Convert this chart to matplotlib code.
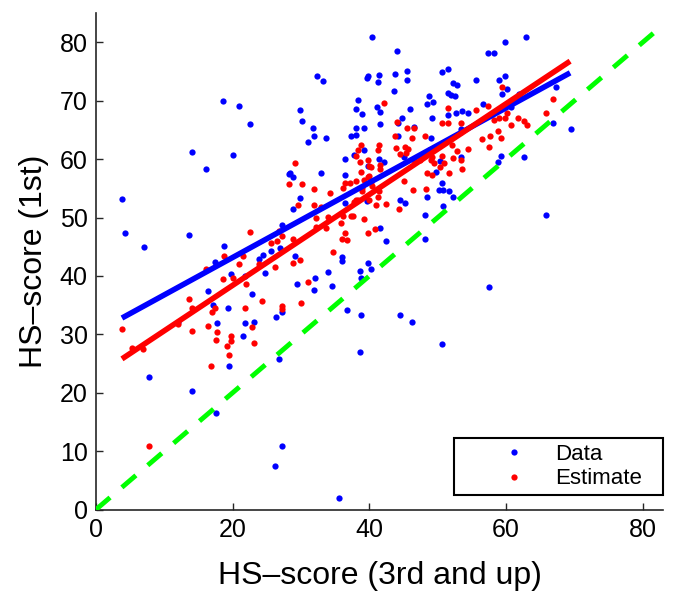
import matplotlib
matplotlib.use("Agg")
import matplotlib.pyplot as plt
import numpy as np

plt.rcParams['font.family'] = ['Liberation Sans', 'DejaVu Sans']

data_x = [18.6, 21.0, 22.5, 14.0, 20.0, 16.1, 28.2,
          40.4, 44.1, 32.3, 33.3, 39.8, 39.6, 41.4, 41.3, 43.7, 45.5, 45.5, 50.6, 51.6, 52.3, 52.8, 55.6,
          43.6, 51.6, 52.0, 52.5, 38.4, 29.9, 30.1, 38.1, 38.9, 41.2, 41.6, 45.9, 48.8, 49.4, 48.5, 49.2,
          51.5, 52.7, 53.6, 54.5, 44.8, 41.5, 31.8, 31.9, 33.7, 31.1, 38.0, 39.2, 37.3, 38.0, 44.2, 46.5,
          44.2, 49.1, 39.3, 37.7, 41.4, 42.2, 45.1, 36.4, 39.8, 28.4, 28.9, 32.9, 36.4, 49.8, 50.3, 53.5, 53.5,
          63.0, 59.9, 57.4, 58.2, 59.0, 59.9, 60.1, 59.5, 67.4, 56.6, 61.9, 60.7, 66.9, 69.5, 59.3, 62.6, 58.8,
          3.8, 4.3, 7.0, 13.6, 27.2, 18.7, 17.4, 19.8, 21.8, 23.9, 24.4, 25.6, 26.9, 24.7, 16.4, 17.1, 19.3,
          22.9, 17.7, 21.8, 23.2, 21.5, 26.4, 27.3, 12.0,
          7.7, 19.5, 26.8, 14.1, 17.6, 27.3, 26.2,
          38.7, 50.7, 35.5, 65.8, 57.5,
          29.8, 28.9, 36.5, 39.7, 44.5, 45.3, 48.4, 50.2, 50.8, 51.7, 52.3, 50.8, 50.7, 48.2, 48.2, 41.6, 42.4,
          29.2, 36.0, 36.0, 39.8, 40.3, 38.6, 38.8, 34.0, 32.0, 29.4, 31.9, 34.6, 36.7, 38.8, 44.5, 46.3]
data_y = [69.9, 69.1, 66.0, 61.3, 60.8, 58.4, 57.5,
          80.9, 78.6, 74.3, 73.4, 74.3, 73.9, 74.5, 73.2, 74.6, 75.1, 73.5, 74.9, 75.4, 73.0, 72.8, 73.5,
          71.7, 71.4, 71.0, 70.9, 70.2, 68.5, 66.5, 68.6, 67.8, 68.9, 68.1, 68.6, 70.9, 69.8, 69.4, 67.1,
          67.5, 67.9, 68.2, 67.9, 67.1, 66.1, 65.4, 64.0, 63.7, 62.9, 65.4, 65.3, 64.0, 64.2, 66.2, 65.5,
          64.0, 63.6, 61.6, 60.7, 60.1, 59.5, 60.3, 60.0, 58.9, 57.6, 56.9, 57.6, 57.3, 57.9, 59.7, 60.3, 65.1,
          81.0, 80.1, 78.2, 78.2, 73.5, 74.3, 72.0, 71.1, 72.3, 69.5, 71.1, 68.9, 66.2, 65.2, 60.5, 60.4, 59.5,
          53.2, 47.3, 44.9, 47.1, 48.7, 45.2, 42.4, 40.4, 40.0, 42.9, 43.6, 44.2, 44.8, 40.5, 37.4, 35.1, 34.5,
          37.0, 31.9, 31.9, 32.1, 29.7, 32.9, 33.9, 32.2,
          22.7, 24.6, 25.8, 20.3, 16.5, 10.8, 7.4,
          26.9, 28.3, 2.0, 50.4, 38.1,
          53.4, 51.5, 52.5, 52.8, 53.0, 52.5, 53.5, 54.7, 54.8, 54.5, 53.6, 52.0, 56.0, 50.4, 46.4, 48.2, 46.0,
          43.4, 43.3, 42.6, 42.3, 41.2, 40.8, 39.7, 40.7, 39.7, 38.6, 37.6, 38.3, 34.2, 33.4, 33.4, 32.2]

est_x = [42.2, 51.5, 55.6, 44.1, 50.6, 51.6, 53.5, 45.5, 43.7, 46.3, 48.2, 38.8, 41.4, 38.4, 41.3, 43.9,
         45.3, 45.6, 38.0, 39.8, 38.6, 44.5, 29.2, 52.1, 54.4, 52.9, 52.2, 53.5, 50.7, 50.9, 49.0, 49.5,
         50.3, 48.5, 49.2, 51.7, 38.8, 40.3, 41.5, 41.5, 39.9, 53.6,
         59.4, 66.9, 57.4, 60.1, 59.0, 59.9, 58.2, 61.8, 62.6, 63.1, 60.7, 65.8, 58.9, 57.7, 56.5, 59.3, 57.5,
         28.2, 22.5, 26.8, 26.5, 25.6, 27.3, 18.7, 21.5, 20.9, 16.1, 18.6, 20.0, 21.9, 23.9, 26.2, 13.6,
         14.1, 17.0, 17.4, 21.8, 24.3, 27.3, 27.3, 16.4, 14.0, 17.7, 17.6, 19.8, 19.7, 19.2, 22.9, 23.2,
         3.8, 12.0, 5.2,
         6.9, 19.5, 16.9, 7.7,
         30.1, 31.9, 34.2, 29.5, 31.9, 32.9, 36.4, 37.2, 38.0, 39.8, 38.9, 40.4, 41.4, 41.3, 38.1, 42.4,
         45.1, 46.4, 48.3, 44.4, 32.2, 34.0, 37.6, 39.3, 35.9, 32.2, 33.7, 36.5, 36.0, 36.8, 39.8, 40.8,
         28.9, 34.7, 28.9, 29.9, 31.1, 30.0,
         39.9, 39.2, 40.2, 36.2, 39.0, 40.0, 38.4, 37.8, 41.0, 36.1, 37.3,
         46.6, 53.4, 45.4, 46.6, 47.5, 50.2, 48.8, 49.2]
est_y = [69.7, 68.7, 68.4, 66.3, 66.2, 66.2, 66.2, 65.4, 64.0, 63.7, 63.9, 62.5, 62.4, 61.6, 61.5, 62.0,
         62.1, 61.8, 60.5, 59.9, 59.6, 60.9, 59.4, 62.5, 61.7, 61.4, 60.2, 59.8, 60.5, 59.3, 59.8, 59.3,
         58.6, 57.7, 57.3, 57.6, 57.8, 58.6, 59.0, 58.4, 57.2, 58.4,
         72.4, 70.3, 69.1, 67.9, 67.0, 67.0, 66.7, 67.1, 66.6, 65.8, 65.8, 67.9, 64.8, 64.0, 63.5, 63.7, 62.1,
         55.7, 47.5, 47.7, 46.0, 45.6, 46.9, 43.4, 43.5, 42.1, 41.2, 39.5, 39.7, 38.7, 42.0, 41.6, 36.0,
         34.5, 33.8, 34.6, 34.6, 35.8, 34.9, 34.3, 31.5, 30.6, 30.4, 29.1, 29.8, 28.8, 28.0, 31.3, 28.5,
         30.9, 31.7, 27.6,
         27.5, 26.5, 24.6, 10.9,
         55.7, 54.9, 54.2, 52.1, 52.2, 51.8, 55.9, 56.0, 56.3, 57.0, 55.0, 55.4, 54.5, 53.6, 53.1, 52.4,
         56.3, 54.7, 54.9, 51.5, 49.9, 50.1, 50.3, 49.7, 49.1, 48.4, 48.3, 47.4, 46.4, 46.1, 47.4, 48.1,
         46.4, 44.1, 42.3, 42.8, 39.0, 35.4,
         58.8, 56.4, 56.1, 55.0, 54.5, 53.1, 53.0, 52.7, 52.1, 50.3, 50.3,
         65.3, 64.7, 61.0, 59.8, 59.8, 62.2, 61.6, 60.3]

fit_x = [3.8, 69.4]
data_fit_y = [32.8, 74.8]
est_fit_y = [25.8, 76.8]
ident_xy = [0, 83]

fig = plt.figure(figsize=(6.73, 5.95), dpi=100)
ax = fig.add_axes([96/673, 1 - 509.5/595, 567/673, 496.2/595])

ax.plot(data_x, data_y, 'o', color=(0, 0, 1), ms=4.5, mew=0, label='Data', zorder=2)
ax.plot(est_x, est_y, 'o', color=(1, 0, 0), ms=4.5, mew=0, label='Estimate', zorder=3)
ax.plot(fit_x, data_fit_y, '-', color=(0, 0, 1), lw=4, solid_capstyle='butt', zorder=4)
ax.plot(fit_x, est_fit_y, '-', color=(1, 0, 0), lw=4, solid_capstyle='butt', zorder=5)
ax.plot(ident_xy, ident_xy, color=(0, 1, 0), lw=3.5, dashes=(3.8, 3.2), dash_capstyle='butt', zorder=6)

ax.set_xlim(0, 83)
ax.set_ylim(0, 85)
ax.set_xticks([0, 20, 40, 60, 80])
ax.set_yticks(np.arange(0, 81, 10))
for s in ['top', 'right']:
    ax.spines[s].set_visible(False)
for s in ['left', 'bottom']:
    ax.spines[s].set_color('#262626')
    ax.spines[s].set_linewidth(1.2)
ax.tick_params(direction='in', length=5, width=1, labelsize=18, colors='#262626', labelcolor='black', pad=6)

ax.set_xlabel('HS–score (3rd and up)', fontsize=23, labelpad=14)
ax.set_ylabel('HS–score (1st)', fontsize=23, labelpad=8)

leg = ax.legend(loc='lower left', bbox_to_anchor=(0.631, 0.0286, 0.369, 0.135), mode='expand',
                borderaxespad=0, fontsize=16, numpoints=1, fancybox=False, framealpha=1,
                edgecolor='black', borderpad=0.27, labelspacing=0.15, handlelength=4.86,
                handletextpad=-0.59)
leg.get_frame().set_linewidth(1.5)

fig.savefig('out.png', dpi=100)
